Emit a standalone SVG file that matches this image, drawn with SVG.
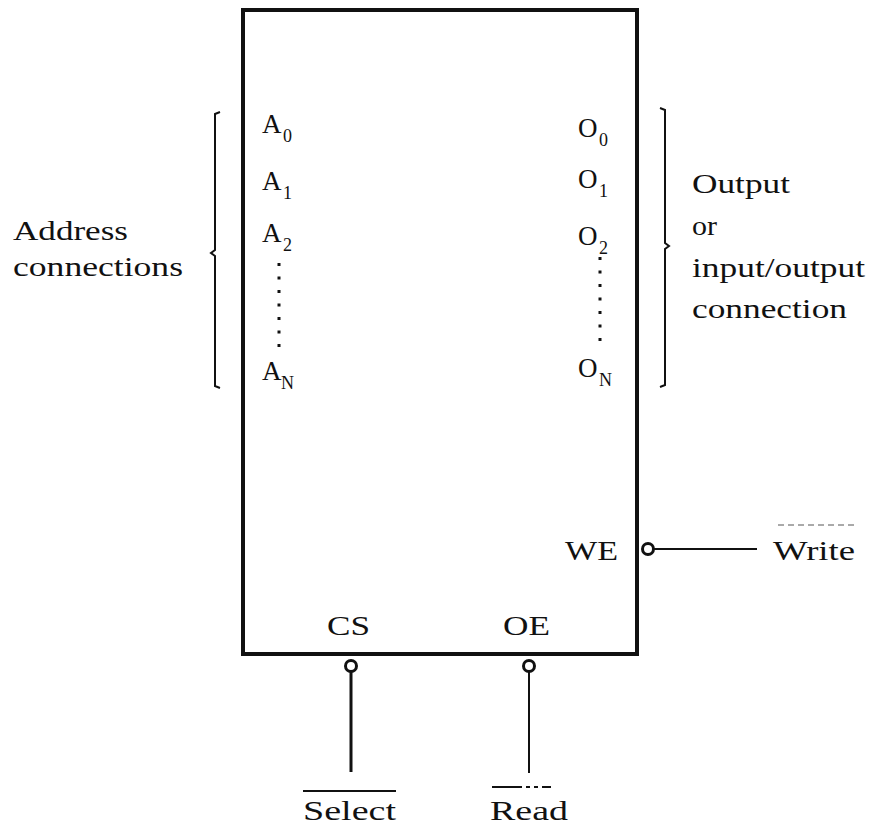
<svg xmlns="http://www.w3.org/2000/svg" width="873" height="827" viewBox="0 0 873 827">
<style>
text{font-family:"Liberation Serif","Times New Roman",serif;fill:#111;}
.t{font-size:27px;}
.s{font-size:18px;}
.ln{stroke:#111;fill:none;}
.bub{stroke:#111;stroke-width:3;fill:#fff;}
.dot{stroke:#111;stroke-width:3;stroke-dasharray:3 10.5;fill:none;}
</style>
<rect width="873" height="827" fill="#fff"/>
<g id="memory-chip">
<rect x="243" y="10" width="394" height="644" class="ln" stroke-width="4"/>
<text class="t" x="262" y="133">A</text><text class="s" x="283" y="142">0</text>
<text class="t" x="262" y="190">A</text><text class="s" x="283" y="199">1</text>
<text class="t" x="262" y="242">A</text><text class="s" x="283" y="251">2</text>
<text class="t" x="262" y="380">A</text><text class="s" x="281" y="389">N</text>
<line x1="279" y1="263" x2="279" y2="348" class="dot"/>
<text class="t" x="578" y="137">O</text><text class="s" x="599" y="146">0</text>
<text class="t" x="578" y="188">O</text><text class="s" x="599" y="197">1</text>
<text class="t" x="578" y="245">O</text><text class="s" x="599" y="254">2</text>
<text class="t" x="578" y="377">O</text><text class="s" x="599" y="386">N</text>
<line x1="600" y1="257" x2="600" y2="345" class="dot"/>
<text class="t" x="565" y="560" textLength="53" lengthAdjust="spacingAndGlyphs">WE</text>
<text class="t" x="327" y="635" textLength="43" lengthAdjust="spacingAndGlyphs">CS</text>
<text class="t" x="503" y="635" textLength="47" lengthAdjust="spacingAndGlyphs">OE</text>
</g>
<g id="address-label">
<path d="M220,112 L215,114 L215,250 L211,253 L215,256 L215,386 L220,388" class="ln" stroke-width="2"/>
<text class="t" x="13" y="240" textLength="115" lengthAdjust="spacingAndGlyphs">Address</text>
<text class="t" x="13" y="276" textLength="170" lengthAdjust="spacingAndGlyphs">connections</text>
</g>
<g id="output-label">
<path d="M660,108 L665,110 L665,243 L669,246 L665,249 L665,385 L660,387" class="ln" stroke-width="2"/>
<text class="t" x="692" y="193" textLength="98" lengthAdjust="spacingAndGlyphs">Output</text>
<text class="t" x="692" y="235" textLength="25" lengthAdjust="spacingAndGlyphs">or</text>
<text class="t" x="692" y="277" textLength="173" lengthAdjust="spacingAndGlyphs">input/output</text>
<text class="t" x="692" y="318" textLength="155" lengthAdjust="spacingAndGlyphs">connection</text>
</g>
<g id="write">
<line x1="778" y1="525" x2="856" y2="525" stroke="#555" stroke-width="1" stroke-dasharray="6 4"/>
<text class="t" x="773" y="560" textLength="82" lengthAdjust="spacingAndGlyphs">Write</text>
</g>
<g id="select">
<line x1="303" y1="791" x2="396" y2="791" class="ln" stroke-width="2"/>
<text class="t" x="303" y="820" textLength="93" lengthAdjust="spacingAndGlyphs">Select</text>
</g>
<g id="read">
<line x1="492" y1="787" x2="551" y2="787" class="ln" stroke-width="2" stroke-dasharray="30 4 4 4 4 4"/>
<text class="t" x="490" y="820" textLength="78" lengthAdjust="spacingAndGlyphs">Read</text>
</g>
<g id="connectors">
<line x1="654" y1="549" x2="757" y2="549" class="ln" stroke-width="2"/>
<circle cx="648" cy="549" r="5.5" class="bub"/>
<line x1="351" y1="671" x2="351" y2="772" class="ln" stroke-width="3"/>
<circle cx="351" cy="666" r="5.5" class="bub"/>
<line x1="529" y1="671" x2="529" y2="773" class="ln" stroke-width="2"/>
<circle cx="529" cy="666" r="5.5" class="bub"/>
</g>
</svg>
